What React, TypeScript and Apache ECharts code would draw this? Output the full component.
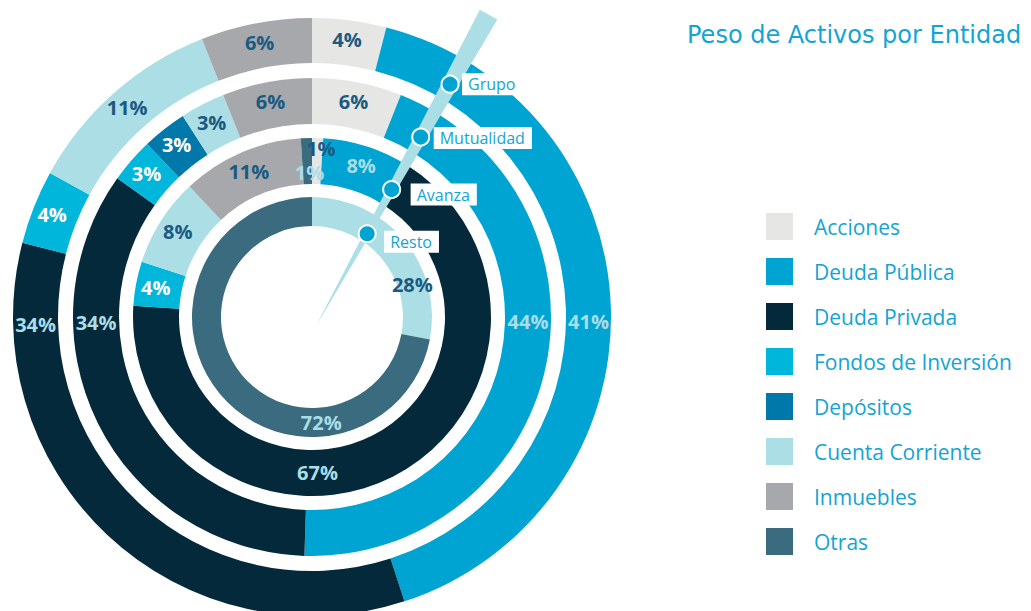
import React, { useEffect, useRef } from "react";
import * as echarts from "echarts";

// ---- data ----
const CATEGORIES = [
  "Acciones",
  "Deuda Pública",
  "Deuda Privada",
  "Fondos de Inversión",
  "Depósitos",
  "Cuenta Corriente",
  "Inmuebles",
  "Otras",
];
const ENTITIES = ["Grupo", "Mutualidad", "Avanza", "Resto"];
const GRUPO = [4, 41, 34, 4, 0, 11, 6, 0];
const MUTUALIDAD = [6, 44, 34, 3, 3, 3, 6, 0];
const AVANZA = [1, 8, 67, 4, 0, 8, 11, 1];
const RESTO = [0, 0, 0, 0, 0, 28, 0, 72];
const VALUES = [GRUPO, MUTUALIDAD, AVANZA, RESTO];
const TITLE = "Peso de Activos por Entidad";

// ---- styling ----
const COLORS = ["#e6e6e5", "#00a4d3", "#03293a", "#00b7db", "#0079aa", "#abdee5", "#a7a8ac", "#3a6b7e"];
const LABEL_COLORS = ["#1a5a82", "#aadde6", "#aadde6", "#ffffff", "#ffffff", "#1a5a82", "#1a5a82", "#aadde6"];
const CENTER = [312, 317];
const RADII = [
  [254, 299],
  [193, 239],
  [133, 179],
  [91, 120],
];
// label placement overrides: ring index -> category -> {angle (deg clockwise from top), r}
const LABEL_OVERRIDES: Record<number, Record<string, { angle: number; r?: number }>> = {
  0: { "Deuda Pública": { angle: 91 }, "Deuda Privada": { angle: 268.5 } },
  1: { "Deuda Pública": { angle: 91.3 }, "Deuda Privada": { angle: 268.5 } },
  2: { "Deuda Privada": { angle: 178 }, Acciones: { angle: 3, r: 169 }, Otras: { angle: 359, r: 145 } },
  3: { "Cuenta Corriente": { angle: 72 }, Otras: { angle: 175 } },
};
const NEEDLE = { x: 316, y: 326, angle: 29, length: 356, width: 20 };
const BOX_OFFSETS = [
  [12, 0],
  [13, 1],
  [19, 5],
  [17, 8],
];
const FONT = "'Open Sans', 'Noto Sans', sans-serif";
const ACCENT = "#13a4d4";

export default function App() {
  const ref = useRef<HTMLDivElement>(null);

  useEffect(() => {
    if (!ref.current) return;
    const chart = echarts.init(ref.current, undefined, { renderer: "svg" });

    const series = VALUES.map((vals, ri) => {
      const items = CATEGORIES.map((name, ci) => ({
        name,
        value: vals[ci],
        itemStyle: { color: COLORS[ci] },
        label: { color: LABEL_COLORS[ci] },
      })).filter((d) => d.value > 0);
      const [r0, r1] = RADII[ri];
      const mid = (r0 + r1) / 2;
      return {
        type: "pie",
        name: ENTITIES[ri],
        center: CENTER,
        radius: [r0, r1],
        startAngle: 90,
        clockwise: true,
        avoidLabelOverlap: false,
        silent: true,
        label: {
          show: true,
          position: "inside",
          formatter: "{c}%",
          fontFamily: FONT,
          fontWeight: "bold",
          fontSize: 20,
        },
        labelLine: { show: false },
        labelLayout: (p: any) => {
          const item = items[p.dataIndex];
          const ov = item && LABEL_OVERRIDES[ri] && LABEL_OVERRIDES[ri][item.name];
          if (!ov) return {};
          const rr = ov.r ?? mid;
          const a = (ov.angle * Math.PI) / 180;
          return {
            x: CENTER[0] + rr * Math.sin(a),
            y: CENTER[1] - rr * Math.cos(a),
            align: "center",
            verticalAlign: "middle",
          };
        },
        data: items,
      };
    });

    // needle graphic
    const a = (NEEDLE.angle * Math.PI) / 180;
    const d = [Math.sin(a), -Math.cos(a)];
    const pp = [Math.cos(a), Math.sin(a)];
    const top = [NEEDLE.x + d[0] * NEEDLE.length, NEEDLE.y + d[1] * NEEDLE.length];
    const hw = NEEDLE.width / 2;
    const graphics: any[] = [
      {
        type: "polygon",
        z: 100,
        shape: {
          points: [
            [NEEDLE.x, NEEDLE.y],
            [top[0] - pp[0] * hw, top[1] - pp[1] * hw],
            [top[0] + pp[0] * hw, top[1] + pp[1] * hw],
          ],
        },
        style: { fill: "#abdee5" },
      },
    ];
    ENTITIES.forEach((name, ri) => {
      const mid = (RADII[ri][0] + RADII[ri][1]) / 2;
      const cx = NEEDLE.x + d[0] * mid;
      const cy = NEEDLE.y + d[1] * mid;
      graphics.push({
        type: "circle",
        z: 101,
        shape: { cx, cy, r: 8.5 },
        style: { fill: "#00a4d3", stroke: "#ffffff", lineWidth: 2 },
      });
      graphics.push({
        type: "text",
        z: 101,
        x: cx + BOX_OFFSETS[ri][0],
        y: cy + BOX_OFFSETS[ri][1],
        style: {
          text: name,
          fill: ACCENT,
          font: `16px ${FONT}`,
          backgroundColor: "#ffffff",
          padding: [3, 7, 3, 6],
          verticalAlign: "middle",
          align: "left",
        },
      });
    });

    chart.setOption({
      animation: false,
      backgroundColor: "#ffffff",
      title: {
        text: TITLE,
        left: 687,
        top: 23,
        padding: 0,
        textStyle: { color: ACCENT, fontFamily: "'DejaVu Sans', sans-serif", fontSize: 24, fontWeight: "normal" },
      },
      legend: {
        orient: "vertical",
        left: 766,
        top: 213,
        padding: 0,
        itemWidth: 27,
        itemHeight: 27,
        itemGap: 18,
        icon: "rect",
        selectedMode: false,
        data: CATEGORIES,
        textStyle: { color: ACCENT, fontFamily: FONT, fontSize: 21, padding: [0, 0, 0, 16] },
      },
      series,
      graphic: graphics,
    });

    return () => chart.dispose();
  }, []);

  return (
    <div
      ref={ref}
      style={{ position: "fixed", left: 0, top: 0, width: 1031, height: 611, background: "#fff" }}
    />
  );
}
